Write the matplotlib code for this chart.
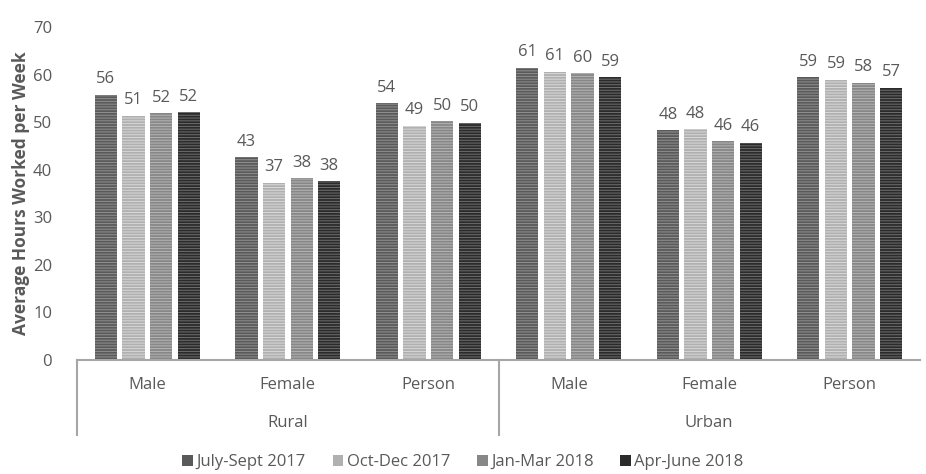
import numpy as np
import matplotlib.pyplot as plt
from matplotlib.patches import Patch
import matplotlib.transforms as mtransforms

plt.rcParams['font.family'] = ['Open Sans', 'DejaVu Sans']
plt.rcParams['hatch.linewidth'] = 0.7

sexes = ['Male', 'Female', 'Person', 'Male', 'Female', 'Person']
areas = ['Rural', 'Urban']
series = ['July-Sept 2017', 'Oct-Dec 2017', 'Jan-Mar 2018', 'Apr-June 2018']

jul_sep17 = [55.7, 42.6, 54.0, 61.4, 48.3, 59.4]
oct_dec17 = [51.3, 37.2, 49.2, 60.6, 48.5, 58.9]
jan_mar18 = [51.9, 38.2, 50.2, 60.3, 46.0, 58.3]
apr_jun18 = [52.1, 37.6, 49.8, 59.4, 45.6, 57.2]

colors = ['#5a5a5a', '#b0b0b0', '#878787', '#2b2b2b']
hatch_cols = ['#909090', '#d8d8d8', '#b4b4b4', '#6e6e6e']
txt = '#595959'

fig = plt.figure(figsize=(9.26, 4.74), dpi=100)
ax = fig.add_axes([0.0832, 0.2405, 0.9103, 0.7025])

x = np.arange(len(sexes))
w = 0.157
step = 0.196
data = [jul_sep17, oct_dec17, jan_mar18, apr_jun18]
for i, vals in enumerate(data):
    pos = x + (i - 1.5) * step
    bars = ax.bar(pos, vals, w, color=colors[i], edgecolor=hatch_cols[i],
                  hatch='------', linewidth=0)
    for b, v in zip(bars, vals):
        ax.text(b.get_x() + b.get_width() / 2, v + 1.6, '%d' % round(v),
                ha='center', va='bottom', fontsize=12, color=txt)

ax.set_xlim(-0.5, 5.5)
ax.set_ylim(0, 70)
ax.set_yticks(range(0, 71, 10))
ax.tick_params(axis='y', length=0, pad=18, labelsize=12, labelcolor=txt)
ax.set_xticks([])
for s in ['left', 'top', 'right']:
    ax.spines[s].set_visible(False)
ax.spines['bottom'].set_color('#a6a6a6')
ax.spines['bottom'].set_linewidth(1.5)
ax.set_ylabel('Average Hours Worked per Week', fontsize=12.5, fontweight='bold',
              color=txt, labelpad=2)

trans = mtransforms.blended_transform_factory(ax.transData, ax.transAxes)
for xv in [-0.5, 2.5]:
    ax.plot([xv, xv], [0, -0.225], color='#a6a6a6', lw=1.5,
            transform=trans, clip_on=False)
for xi, s in zip(x, sexes):
    ax.text(xi, -0.075, s, transform=trans, ha='center', va='center',
            fontsize=12, color=txt)
for k, a in enumerate(areas):
    ax.text(1 + 3 * k, -0.19, a, transform=trans, ha='center', va='center',
            fontsize=12, color=txt)

handles = [Patch(facecolor=c, label=s) for c, s in zip(colors, series)]
fig.legend(handles=handles, loc='center', bbox_to_anchor=(0.5, 0.025), ncol=4,
           frameon=False, fontsize=12, labelcolor=txt, handlelength=0.65,
           handleheight=0.65, handletextpad=0.2, columnspacing=1.6)

fig.savefig('out.png', dpi=100)
